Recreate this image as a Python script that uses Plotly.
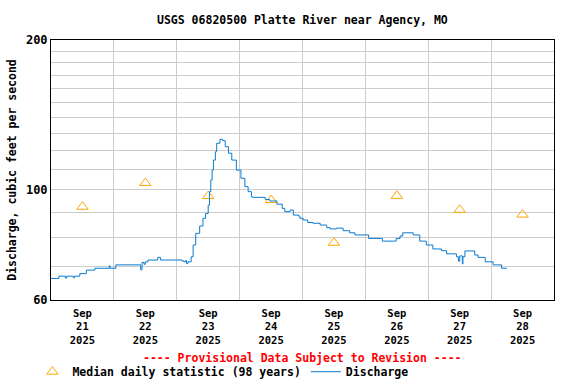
import plotly.graph_objects as go

# Median daily statistic (98 years), plotted at noon of each day
median_dates = ["2025-09-21 12:00", "2025-09-22 12:00", "2025-09-23 12:00", "2025-09-24 12:00",
                "2025-09-25 12:00", "2025-09-26 12:00", "2025-09-27 12:00", "2025-09-28 12:00"]
median_values = [92.4, 103.1, 97.1, 95.3, 78.2, 97.2, 91.1, 89.1]

# Discharge (cfs)
q_times = [
    "2025-09-21 00:00", "2025-09-21 03:00", "2025-09-21 05:30", "2025-09-21 06:00", "2025-09-21 08:30",
    "2025-09-21 09:00", "2025-09-21 11:00", "2025-09-21 13:30", "2025-09-21 16:45", "2025-09-21 22:15",
    "2025-09-21 22:30", "2025-09-22 00:45", "2025-09-22 10:15", "2025-09-22 10:45", "2025-09-22 11:30",
    "2025-09-22 12:00", "2025-09-22 13:00", "2025-09-22 16:45", "2025-09-22 17:45", "2025-09-23 02:00",
    "2025-09-23 02:45", "2025-09-23 03:15", "2025-09-23 03:45", "2025-09-23 04:15", "2025-09-23 05:30",
    "2025-09-23 06:15", "2025-09-23 07:15", "2025-09-23 08:45", "2025-09-23 10:00", "2025-09-23 11:00",
    "2025-09-23 12:00", "2025-09-23 12:30", "2025-09-23 13:00", "2025-09-23 13:30", "2025-09-23 14:00",
    "2025-09-23 14:45", "2025-09-23 15:15", "2025-09-23 16:30", "2025-09-23 17:30", "2025-09-23 18:30",
    "2025-09-23 19:45", "2025-09-23 21:00", "2025-09-23 22:45", "2025-09-24 00:30", "2025-09-24 02:00",
    "2025-09-24 03:15", "2025-09-24 04:30", "2025-09-24 05:00", "2025-09-24 09:45", "2025-09-24 11:30",
    "2025-09-24 14:15", "2025-09-24 16:15", "2025-09-24 17:15", "2025-09-24 19:15", "2025-09-24 20:30",
    "2025-09-24 22:30", "2025-09-24 23:00", "2025-09-25 00:15", "2025-09-25 02:00", "2025-09-25 04:00",
    "2025-09-25 06:45", "2025-09-25 09:15", "2025-09-25 10:30", "2025-09-25 13:00", "2025-09-25 15:30",
    "2025-09-25 18:00", "2025-09-25 20:00", "2025-09-26 01:15", "2025-09-26 06:30", "2025-09-26 11:45",
    "2025-09-26 13:15", "2025-09-26 14:15", "2025-09-26 18:15", "2025-09-26 20:45", "2025-09-26 23:15",
    "2025-09-27 01:45", "2025-09-27 05:00", "2025-09-27 07:00", "2025-09-27 10:45", "2025-09-27 11:30",
    "2025-09-27 12:00", "2025-09-27 13:00", "2025-09-27 13:15", "2025-09-27 14:00", "2025-09-27 17:45",
    "2025-09-27 19:00", "2025-09-27 21:45", "2025-09-28 00:45", "2025-09-28 04:00", "2025-09-28 06:00",
]
q_values = [
    66.3, 67.0, 66.4, 67.0, 66.5,
    67.0, 67.8, 68.9, 69.5, 70.3,
    69.5, 70.6, 69.0, 71.4, 70.8,
    71.6, 72.2, 73.1, 72.2, 71.9,
    71.6, 72.0, 71.0, 71.6, 73.3,
    77.4, 81.7, 84.5, 87.6, 89.6,
    93.1, 99.1, 104.6, 109.5, 114.7,
    119.2, 124.0, 126.3, 125.5, 122.0,
    118.4, 114.7, 109.5, 105.4, 101.4,
    99.1, 96.8, 96.5, 95.6, 94.9,
    93.5, 91.7, 90.3, 91.0, 88.9,
    88.5, 87.6, 86.9, 85.9, 85.6,
    84.9, 83.9, 83.4, 83.7, 82.7,
    81.9, 81.1, 79.8, 78.8, 79.8,
    80.7, 81.9, 81.1, 78.8, 77.4,
    76.0, 75.4, 74.3, 73.3, 71.8,
    73.6, 70.9, 73.3, 75.3, 73.9,
    73.1, 71.6, 70.6, 69.5, 69.5,
]

day_noons = median_dates
day_midnights = ["2025-09-22", "2025-09-23", "2025-09-24", "2025-09-25",
                 "2025-09-26", "2025-09-27", "2025-09-28"]
x_ticktext = ["Sep<br>%d<br>2025" % d for d in range(21, 29)]
y_major = [60, 100, 200]
y_minor = [70, 80, 90, 110, 120, 130, 140, 150, 160, 170, 180, 190]

FONT = "DejaVu Sans Mono"
GRID = "#cccccc"

fig = go.Figure()
fig.add_trace(go.Scatter(
    x=median_dates, y=median_values, mode="markers",
    name="Median daily statistic (98 years)",
    marker=dict(symbol="triangle-up-open", size=10, color="#FFA500", line=dict(width=1, color="#FFA500")),
))
fig.add_trace(go.Scatter(
    x=q_times, y=q_values, mode="lines", name="Discharge",
    line=dict(color="#0a7bd0", width=1, shape="hv"),
))

fig.update_layout(
    width=576, height=384,
    margin=dict(l=51, r=22, t=40, b=84, autoexpand=False),
    paper_bgcolor="white", plot_bgcolor="white",
    font=dict(family=FONT, size=11.5, color="black", weight="bold"),
    title=dict(text="USGS 06820500 Platte River near Agency, MO", x=0.525, xanchor="center",
               y=1 - 20 / 384, yanchor="middle",
               font=dict(family=FONT, size=11.5, color="black", weight="bold")),
    showlegend=True,
    legend=dict(orientation="h", x=-0.037, xanchor="left", y=-0.22, yanchor="top",
                font=dict(family=FONT, size=11.5, color="black", weight="bold"),
                bgcolor="rgba(0,0,0,0)", itemwidth=30),
    annotations=[dict(text="---- Provisional Data Subject to Revision ----",
                      xref="paper", yref="paper", x=0.5, y=-58 / 260, xanchor="center", yanchor="middle",
                      showarrow=False, font=dict(family=FONT, size=11.5, color="red", weight="bold"))],
)
fig.update_xaxes(
    type="date", range=["2025-09-21 00:00", "2025-09-29 00:00"], automargin=False,
    tickmode="array", tickvals=day_noons, ticktext=x_ticktext, ticks="", ticklabelstandoff=3,
    showgrid=False, zeroline=False,
    showline=True, linecolor="black", linewidth=1, mirror=True,
    tickfont=dict(family=FONT, size=10.5, color="black", weight="bold"),
    minor=dict(tickmode="array", tickvals=day_midnights, showgrid=True, gridcolor=GRID, gridwidth=1, ticks=""),
)
fig.update_yaxes(
    type="log", range=[1.7781513, 2.30103], automargin=False,
    tickmode="array", tickvals=y_major, ticktext=[str(v) for v in y_major], ticks="",
    showgrid=True, gridcolor=GRID, gridwidth=1, zeroline=False,
    showline=True, linecolor="black", linewidth=1, mirror=True,
    tickfont=dict(family=FONT, size=12, color="black", weight="bold"),
    title=dict(text="Discharge, cubic feet per second", standoff=6,
               font=dict(family=FONT, size=11.5, color="black", weight="bold")),
    minor=dict(tickmode="array", tickvals=y_minor, showgrid=True, gridcolor=GRID, gridwidth=1, ticks=""),
)

fig.write_html("out.html", config={"displayModeBar": False},
               post_script="document.body.style.margin='0';document.body.style.overflow='hidden';")
